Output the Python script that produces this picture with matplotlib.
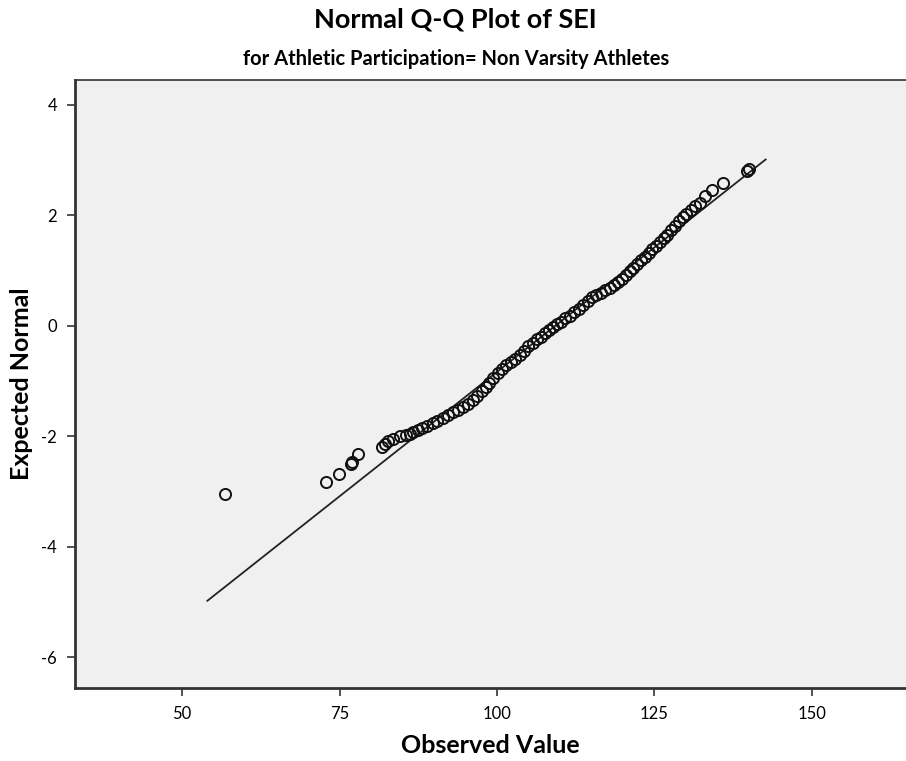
import numpy as np
import matplotlib.pyplot as plt

plt.rcParams['axes.unicode_minus'] = False

observed = [56.8, 72.8, 74.9, 76.8, 77.0, 77.9, 81.7, 82.3, 82.7, 83.5, 84.6, 85.5,
            86.2, 86.7, 87.4, 88.1, 88.9, 89.8, 90.5, 91.4, 92.2, 93.0, 93.8, 94.6,
            95.4, 96.2, 96.9, 97.6, 98.2, 98.8, 99.4, 100.1, 100.8, 101.5, 102.2, 102.9,
            103.6, 104.3, 105.0, 105.7, 106.4, 107.0, 107.7, 108.3, 108.9, 109.5, 110.2,
            110.9, 111.6, 112.3, 113.0, 113.7, 114.4, 115.1, 115.8, 116.5, 117.2, 117.9,
            118.6, 119.2, 119.9, 120.5, 121.1, 121.7, 122.3, 122.9, 123.5, 124.1, 124.7,
            125.3, 125.9, 126.5, 127.1, 127.7, 128.3, 128.9, 129.5, 130.1, 130.8, 131.5,
            132.2, 133.0, 134.1, 135.9, 139.8, 140.0]
expected = [-3.04, -2.83, -2.69, -2.50, -2.46, -2.33, -2.20, -2.15, -2.08, -2.05, -2.00, -1.98,
            -1.96, -1.92, -1.89, -1.85, -1.81, -1.77, -1.72, -1.67, -1.62, -1.57, -1.52, -1.47,
            -1.41, -1.34, -1.27, -1.19, -1.11, -1.04, -0.95, -0.86, -0.79, -0.72, -0.66, -0.60,
            -0.53, -0.45, -0.37, -0.31, -0.25, -0.20, -0.14, -0.08, -0.02, 0.03, 0.07,
            0.13, 0.18, 0.24, 0.30, 0.37, 0.44, 0.51, 0.56, 0.60, 0.64, 0.69,
            0.74, 0.79, 0.85, 0.92, 0.99, 1.05, 1.11, 1.18, 1.25, 1.32, 1.38,
            1.45, 1.52, 1.58, 1.65, 1.73, 1.81, 1.89, 1.97, 2.03, 2.09, 2.16,
            2.22, 2.34, 2.46, 2.59, 2.80, 2.84]

# 参考线：均值与标准差
mean_sei = 109.3
sd_sei = 11.1
line_x = np.array([54.0, 142.7])
line_y = (line_x - mean_sei) / sd_sei

fig = plt.figure(figsize=(9.06, 7.61), dpi=100)
ax = fig.add_axes([0.083, 0.096, 0.917, 0.799])
ax.set_facecolor('#f0f0f0')

ax.plot(line_x, line_y, color='#222222', linewidth=1.3, zorder=2)
ax.plot(observed, expected, linestyle='none', marker='o', markersize=8,
        markerfacecolor='none', markeredgecolor='#111111', markeredgewidth=1.4, zorder=3)

ax.set_xlim(33, 165)
ax.set_ylim(-6.56, 4.45)
ax.set_xticks([50, 75, 100, 125, 150])
ax.set_yticks([-6, -4, -2, 0, 2, 4])

for s in ['left', 'bottom', 'top']:
    ax.spines[s].set_color('#333333')
    ax.spines[s].set_linewidth(2)
ax.spines['right'].set_visible(False)
ax.spines['top'].set_linewidth(1.2)
ax.tick_params(direction='out', length=6, width=1.2, color='#333333', labelsize=12, pad=7)

font = ['Lato', 'DejaVu Sans']
for lab in ax.get_xticklabels() + ax.get_yticklabels():
    lab.set_family(font)

ax.set_xlabel('Observed Value', fontsize=18, fontweight='bold', family=font, labelpad=9)
ax.set_ylabel('Expected Normal', fontsize=18, fontweight='bold', family=font, labelpad=6)

fig.text(0.503, 0.99, 'Normal Q-Q Plot of SEI', ha='center', va='top',
         fontsize=19.5, fontweight='bold', family=font)
fig.text(0.503, 0.935, 'for Athletic Participation= Non Varsity Athletes', ha='center', va='top',
         fontsize=14.5, fontweight='bold', family=font)

plt.savefig('out.png', dpi=100)
